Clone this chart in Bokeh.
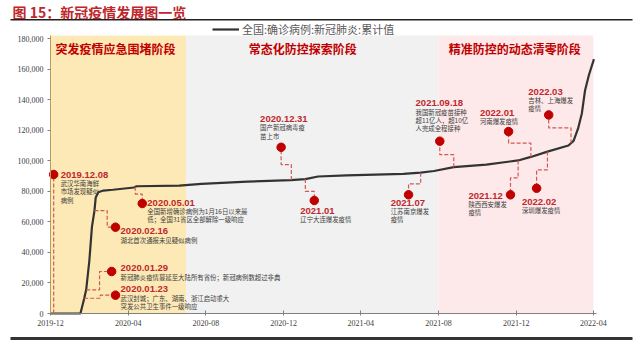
import numpy as np
import pandas as pd
from bokeh.plotting import figure
from bokeh.models import (Range1d, BoxAnnotation, Label, FixedTicker, LinearAxis, DatetimeAxis,
                          NumeralTickFormatter, DatetimeTickFormatter, ColumnDataSource,
                          Legend, LegendItem)
from bokeh.core.properties import value
from bokeh.embed import file_html
from bokeh.resources import INLINE

# ---------------- data ----------------
curve_dates = ["2019-12-01", "2020-01-17", "2020-01-23", "2020-01-26", "2020-01-31",
               "2020-02-04", "2020-02-08", "2020-02-10", "2020-02-14", "2020-02-22",
               "2020-03-08", "2020-04-10", "2020-04-14", "2020-06-20", "2020-07-25",
               "2020-10-05", "2020-12-12", "2021-01-04", "2021-01-24", "2021-03-10",
               "2021-06-07", "2021-07-04", "2021-07-25", "2021-08-25", "2021-10-15",
               "2021-12-04", "2021-12-24", "2022-01-19", "2022-02-21", "2022-03-01",
               "2022-03-08", "2022-03-14", "2022-03-19", "2022-03-25", "2022-04-02"]
curve_vals = [0, 0, 10000, 15500, 34700,
              56500, 67400, 76000, 79400, 80500,
              81000, 82500, 83300, 83700, 84800,
              86300, 87300, 88000, 89700, 90400,
              91400, 92200, 93300, 95800, 97500,
              100200, 102500, 106000, 110000, 113000,
              121000, 131000, 146000, 156000, 166500]
series_name = "全国:确诊病例:新冠肺炎:累计值"

phase_names = ["突发疫情应急围堵阶段", "常态化防控探索阶段", "精准防控的动态清零阶段"]
phase_start = ["2019-12-01", "2020-07-01", "2021-08-01"]
phase_end = ["2020-07-01", "2021-08-01", "2022-04-01"]
phase_colors = ["#fde9b5", "#f1f1f1", "#fde9e9"]
phase_label_dates = ["2019-12-09", "2020-10-07", "2021-08-17"]
phase_label_val = 173400

ev_titles = ["2019.12.08", "2020.05.01", "2020.02.16", "2020.01.29", "2020.01.23",
             "2020.12.31", "2021.01", "2021.07", "2021.09.18", "2022.01", "2022.03",
             "2021.12", "2022.02"]
ev_notes = ["武汉华南海鲜\n市场发现疑似\n病例",
            "全国新增确诊病例为1月16日以来最\n低；全国31省区全部解除一级响应",
            "湖北首次通报未见疑似病例",
            "新冠肺炎疫情蔓延至大陆所有省份；新冠病例数超过非典",
            "武汉封城；广东、湖南、浙江启动重大\n突发公共卫生事件一级响应",
            "国产新冠病毒疫\n苗上市",
            "辽宁大连爆发疫情",
            "江苏南京爆发\n疫情",
            "我国新冠疫苗接种\n超11亿人，超10亿\n人完成全程接种",
            "河南爆发疫情",
            "吉林、上海爆发\n疫情",
            "陕西西安爆发\n疫情",
            "深圳爆发疫情"]
ev_dot_dates = ["2019-12-06", "2020-04-23", "2020-03-12", "2020-03-06", "2020-03-12",
                "2020-11-27", "2021-01-18", "2021-06-15", "2021-08-03", "2021-11-19",
                "2022-01-21", "2021-11-22", "2022-01-02"]
ev_dot_vals = [91000, 72000, 56500, 27500, 12000, 108800, 74000, 77700, 112800,
               119100, 130000, 77700, 82000]
ev_label_dates = ["2019-12-17", "2020-05-01", "2020-03-20", "2020-03-20", "2020-03-20",
                  "2020-10-25", "2020-12-27", "2021-05-18", "2021-06-26", "2021-10-05",
                  "2021-12-20", "2021-09-17", "2021-12-10"]
ev_label_vals = [91000, 72600, 53700, 29600, 15900, 127400, 67000, 72600, 137600,
                 131400, 145300, 77200, 73300]
# connector paths (first point sits on the curve: None)
conn_dates = [["2019-12-06", "2019-12-06"],
              ["2020-04-12", "2020-04-12", "2020-04-23", "2020-04-23"],
              ["2020-02-08", "2020-02-28", "2020-02-28", "2020-03-12"],
              ["2020-01-26", "2020-02-16", "2020-02-16", "2020-03-06"],
              ["2020-01-23", "2020-02-17", "2020-02-17", "2020-03-12"],
              ["2020-12-13", "2020-12-13", "2020-11-27", "2020-11-27"],
              ["2021-01-04", "2021-01-04", "2021-01-18", "2021-01-18"],
              ["2021-07-04", "2021-07-04", "2021-06-15", "2021-06-15"],
              ["2021-08-25", "2021-08-25", "2021-08-03", "2021-08-03"],
              ["2021-12-24", "2021-12-24", "2021-11-19", "2021-11-19"],
              ["2022-02-25", "2022-02-25", "2022-01-21", "2022-01-21"],
              ["2021-12-04", "2021-12-04", "2021-11-22", "2021-11-22"],
              ["2022-01-19", "2022-01-19", "2022-01-02", "2022-01-02"]]
conn_vals = [[None, 91000],
             [None, 78200, 78200, 72000],
             [None, 67400, 56500, 56500],
             [None, 15500, 27500, 27500],
             [None, 10000, 12000, 12000],
             [None, 97500, 97500, 108800],
             [None, 80000, 80000, 74000],
             [None, 84900, 84900, 77700],
             [None, 104000, 104000, 112800],
             [None, 111500, 111500, 119100],
             [None, 121500, 121500, 130000],
             [None, 88800, 88800, 77700],
             [None, 94000, 94000, 82000]]

x_tick_dates = ["2019-12-01", "2020-04-01", "2020-08-01", "2020-12-01", "2021-04-01",
                "2021-08-01", "2021-12-01", "2022-04-01"]
y_ticks = [0, 20000, 40000, 60000, 80000, 100000, 120000, 140000, 160000, 180000]
y_top = 182000
x_first, x_last = "2019-12-01", "2022-04-06"

title_text = "图 15：新冠疫情发展图一览"


def ms(s):
    return pd.Timestamp(s).value / 1e6


# ---------------- layout geometry (pixels) ----------------
W, H = 640, 345
PX_LEFT, PX_RIGHT = 50, 596      # plotting area, x
PX_TOP, PX_ZERO = 35, 313        # plotting area, y (top / y=0)
x0, x1 = ms(x_first), ms(x_last)
kx = (x1 - x0) / (PX_RIGHT - PX_LEFT)
ky = y_top / (PX_ZERO - PX_TOP)

RED = "#c0272d"
p = figure(width=W, height=H, output_backend="svg", toolbar_location=None,
           x_axis_location=None, y_axis_location=None,
           x_range=Range1d(x0 - PX_LEFT * kx, x1 + (W - PX_RIGHT) * kx),
           y_range=Range1d(-(H - PX_ZERO) * ky, y_top + PX_TOP * ky),
           min_border=0)
p.outline_line_color = None
p.xgrid.grid_line_color = None
p.ygrid.grid_line_color = None
p.background_fill_color = "white"
p.border_fill_color = "white"

# phase backgrounds
for s, e, c in zip(phase_start, phase_end, phase_colors):
    p.add_layout(BoxAnnotation(left=ms(s), right=ms(e), bottom=0, top=y_top,
                               fill_color=c, fill_alpha=1.0,
                               line_color=None, level="underlay"))

p.text(x=[ms(d) for d in phase_label_dates], y=[phase_label_val] * 3, text=phase_names,
       text_font=value("Noto Sans CJK SC"), text_font_style="bold",
       text_font_size="12px", text_color="#c00000",
       text_align="left", text_baseline="middle")

# curve
cx = np.array([ms(d) for d in curve_dates])
cy = np.array(curve_vals, dtype=float)
line_r = p.line(cx, cy, line_color="#333333", line_width=2.2)

# connectors
xs, ys = [], []
for dl, vl in zip(conn_dates, conn_vals):
    xx = [ms(d) for d in dl]
    yy = [float(np.interp(xx[i], cx, cy)) if v is None else v for i, v in enumerate(vl)]
    xs.append(xx)
    ys.append(yy)
p.multi_line(xs, ys, line_color="#cf5a55", line_width=1.2, line_dash="4 2")

# event dots & labels
p.scatter(x=[ms(d) for d in ev_dot_dates], y=ev_dot_vals, size=8.5,
          fill_color="#c00000", line_color="#c00000")
lsrc = ColumnDataSource(dict(x=[ms(d) for d in ev_label_dates], y=ev_label_vals,
                             t=ev_titles))
p.text(x="x", y="y", text="t", source=lsrc, text_font=value("Liberation Sans"),
       text_font_style="bold", text_font_size="9.5px", text_color=RED,
       text_align="left", text_baseline="middle")

# note lines, one row per line, stacked below each date label
nx, ny, nt, noff = [], [], [], []
for d, v, note in zip(ev_label_dates, ev_label_vals, ev_notes):
    for i, line in enumerate(note.split("\n")):
        nx.append(ms(d))
        ny.append(v)
        nt.append(line)
        noff.append(8.8 + 8.4 * i)
nsrc = ColumnDataSource(dict(x=nx, y=ny, t=nt, off=noff))
p.text(x="x", y="y", text="t", y_offset="off", source=nsrc,
       text_font=value("Noto Sans CJK SC"), text_font_size="6.4px",
       text_color="#404040", text_align="left", text_baseline="middle")

# axes placed at fixed data locations
xaxis = DatetimeAxis(fixed_location=0, bounds=(x0, x1))
xaxis.ticker = FixedTicker(ticks=[ms(d) for d in x_tick_dates])
fmt = "%Y-%m"
xaxis.formatter = DatetimeTickFormatter(years=fmt, months=fmt, days=fmt, hours=fmt)
yaxis = LinearAxis(fixed_location=x0, bounds=(0, y_top))
yaxis.ticker = FixedTicker(ticks=y_ticks)
yaxis.formatter = NumeralTickFormatter(format="0,0")
for ax in (xaxis, yaxis):
    ax.major_label_text_font = "Liberation Serif"
    ax.major_label_text_font_size = "8px"
    ax.major_label_text_color = "#404040"
    ax.minor_tick_line_color = None
    ax.major_tick_line_color = "#808080"
xaxis.axis_line_color = "#808080"
xaxis.major_tick_in = 3
xaxis.major_tick_out = 2
xaxis.major_label_standoff = 4
yaxis.axis_line_color = "#b89b5e"
yaxis.major_tick_in = 0
yaxis.major_tick_out = 3
yaxis.major_label_standoff = 4
p.add_layout(xaxis, "below")
p.add_layout(yaxis, "left")

# legend
lg = Legend(items=[LegendItem(label=series_name, renderers=[line_r])],
            location=(212, H - 37))
lg.border_line_color = None
lg.background_fill_alpha = 0
lg.padding = 0
lg.margin = 0
lg.glyph_width = 27
lg.glyph_height = 10
lg.label_standoff = 3
lg.label_text_font = "Noto Sans CJK SC"
lg.label_text_font_size = "11px"
lg.label_text_color = "#595959"
lg.label_height = 12
p.add_layout(lg, "center")

# title and rules (screen units)
p.add_layout(Label(x=12, y=H - 1, x_units="screen", y_units="screen", text=title_text,
                   text_font="Noto Sans CJK SC", text_font_style="bold",
                   text_font_size="14px", text_color=RED, text_baseline="top"))
p.add_layout(BoxAnnotation(left=10, right=632, bottom=H - 20, top=H - 18.5,
                           left_units="screen", right_units="screen",
                           bottom_units="screen", top_units="screen",
                           fill_color="#222222", fill_alpha=1, line_color=None))
p.add_layout(BoxAnnotation(left=10, right=632, bottom=H - 339.5, top=H - 336.5,
                           left_units="screen", right_units="screen",
                           bottom_units="screen", top_units="screen",
                           fill_color="#333333", fill_alpha=1, line_color=None))

open("out.html", "w").write(file_html(p, INLINE))
